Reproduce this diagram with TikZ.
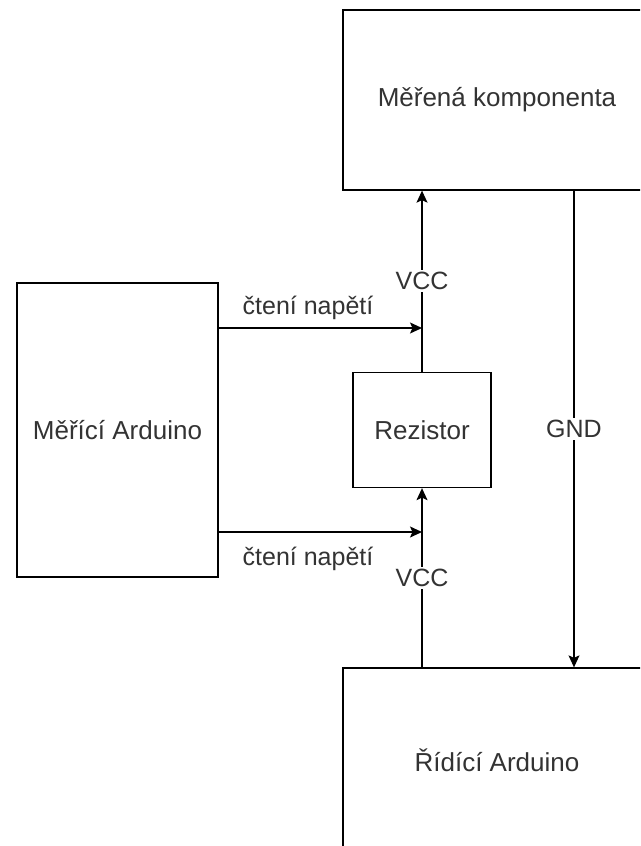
\documentclass[tikz,border=0pt]{standalone}
\usepackage{fontspec}
\setmainfont{Liberation Sans}
\usetikzlibrary{arrows.meta}
\begin{document}
\begin{tikzpicture}[x=1pt, y=-1pt,
  blok/.style={draw, line width=1.3pt, text=black!80, font=\fontsize{26}{30}\selectfont},
  spoj/.style={line width=1.3pt, -{Stealth[length=12pt, width=11pt, inset=2.5pt]}},
  popis/.style={text=black!80, font=\fontsize{25}{29}\selectfont}]
  \clip (0, 0) rectangle (640, 846);
  \fill[white] (0, 0) rectangle (640, 846);

  % Bloky
  \node[blok, minimum width=201, minimum height=294] (merici) at (117.5, 430) {Měřící Arduino};
  \node[blok, minimum width=308, minimum height=180] (merena) at (497, 100) {Měřená komponenta};
  \node[blok, minimum width=138, minimum height=115] (rezistor) at (422, 430) {Rezistor};
  \node[blok, minimum width=308, minimum height=184] (ridici) at (497, 760) {Řídící Arduino};

  % Body na vodicich
  \coordinate (tapA) at (422, 328);
  \coordinate (tapB) at (422, 532);
  \coordinate (gnd) at (574, 0);

  % VCC
  \draw[spoj] (rezistor.north) -- (merena.south -| rezistor.north)
    node[popis, pos=0.5, fill=white, inner sep=2pt] {VCC};
  \draw[spoj] (ridici.north -| rezistor.south) -- (rezistor.south)
    node[popis, pos=0.5, fill=white, inner sep=2pt] {VCC};

  % Cteni napeti
  \draw[spoj] (merici.east |- tapA) -- (tapA);
  \draw[spoj] (merici.east |- tapB) -- (tapB);
  \node[popis] (cteniA) at (308, 308) {čtení napětí};
  \node[popis] (cteniB) at (308, 559) {čtení napětí};

  % GND
  \draw[spoj] (merena.south -| gnd) -- (ridici.north -| gnd)
    node[popis, pos=0.5, fill=white, inner sep=2pt] {GND};
\end{tikzpicture}
\end{document}
